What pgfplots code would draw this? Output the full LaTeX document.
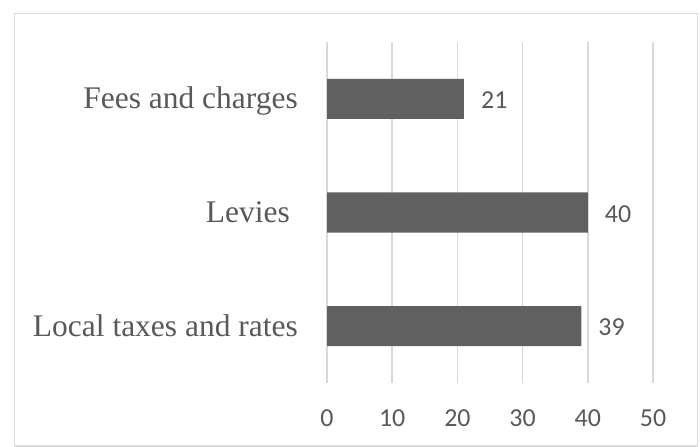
\documentclass[border=0pt]{standalone}
\usepackage{pgfplots}
\pgfplotsset{compat=1.18}
\usepackage{fontspec}
\setmainfont{Liberation Serif}
\newfontfamily\numfont{Carlito}
\definecolor{txt}{RGB}{89,89,89}
\definecolor{barc}{RGB}{96,96,96}
\definecolor{gridc}{RGB}{217,217,217}
\begin{document}
\begin{tikzpicture}
\path[use as bounding box] (0bp,0bp) rectangle (700bp,447bp);
\draw[gridc, line width=1.8bp] (14.5bp,1bp) rectangle (697.5bp,433.5bp);
\begin{axis}[
  at={(327bp,64bp)}, anchor=south west,
  scale only axis, width=326bp, height=341bp,
  xmin=0, xmax=50, ymin=0.5, ymax=3.5,
  xbar, bar width=40bp,
  axis line style={draw=none},
  major tick length=0pt,
  xtick={0,10,20,30,40,50},
  ytick={1,2,3},
  yticklabels={Local taxes and rates, Levies\kern8bp, Fees and charges},
  xmajorgrids, grid style={gridc, line width=1.5bp},
  /pgf/number format/assume math mode=true,
  xticklabel style={font=\numfont\fontsize{26}{28}\selectfont, text=txt, anchor=base, inner sep=0pt, yshift=-43bp},
  yticklabel style={font=\fontsize{31.6}{34}\selectfont, text=txt, anchor=base east, inner sep=0pt, xshift=-29bp, yshift=-10bp},
  nodes near coords,
  nodes near coords style={font=\numfont\fontsize{26}{28}\selectfont, text=txt, anchor=base west, inner sep=0pt, xshift=17bp, yshift=-9.5bp},
]
\addplot[fill=barc, draw=none] coordinates {(39,1) (40,2) (21,3)};
\end{axis}
\end{tikzpicture}
\end{document}
